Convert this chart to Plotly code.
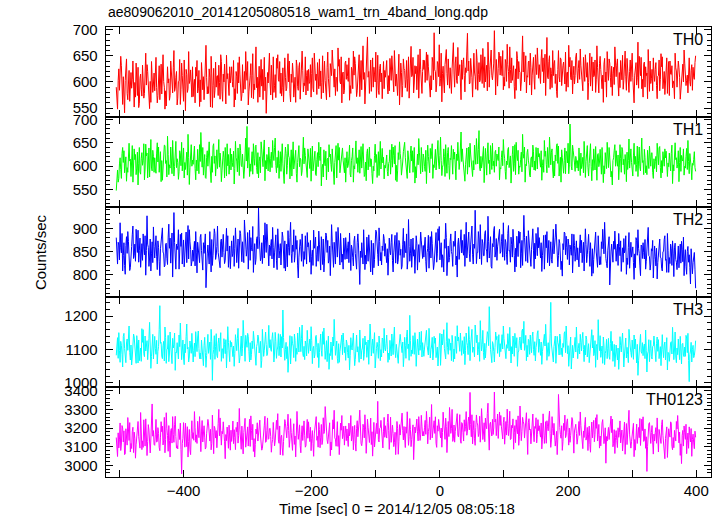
import plotly.graph_objects as go
from plotly.subplots import make_subplots

TITLE = "ae809062010_20141205080518_wam1_trn_4band_long.qdp"
XLABEL = "Time [sec] 0 = 2014/12/05 08:05:18"
YLABEL = "Counts/sec"

T_START = -505
T_STEP = 1

names = ["TH0", "TH1", "TH2", "TH3", "TH0123"]
colors = ["#ff0000", "#00ff00", "#0000ff", "#00ffff", "#ff00ff"]

th0 = [
    590, 571, 548, 603, 625, 584, 612, 649, 631, 592, 557, 610, 575, 541, 603, 627, 644, 578, 566, 596, 622, 563, 581, 618, 588, 604, 640, 567, 552, 599, 571, 636, 597, 574, 628, 551, 559, 607, 615, 586, 573, 632, 604, 569, 578, 613, 655, 594, 633, 620, 586, 562, 549, 601, 561, 639, 609, 580, 596, 617,
    583, 612, 647, 589, 560, 574, 592, 631, 566, 608, 634, 577, 618, 652, 601, 590, 548, 583, 554, 616, 629, 598, 606, 565, 574, 640, 611, 593, 579, 627, 660, 582, 588, 609, 620, 556, 569, 601, 602, 643, 557, 586, 636, 612, 581, 563, 642, 605, 545, 624, 614, 580, 587, 658, 597, 603, 623, 576, 571, 629,
    572, 596, 605, 560, 628, 611, 641, 579, 587, 622, 553, 604, 562, 637, 619, 585, 610, 566, 596, 644, 670, 608, 577, 591, 578, 625, 608, 552, 649, 617, 551, 593, 626, 570, 584, 638, 590, 611, 612, 574, 632, 599, 567, 652, 639, 581, 563, 615, 600, 634, 583, 558, 651, 606, 616, 588, 574, 629, 598, 613,
    629, 601, 590, 641, 552, 587, 566, 620, 611, 578, 637, 598, 648, 615, 597, 564, 575, 633, 579, 606, 620, 586, 658, 619, 603, 639, 556, 581, 591, 612, 635, 570, 612, 654, 568, 596, 585, 627, 667, 589, 609, 561, 594, 630, 571, 614, 643, 592, 624, 566, 605, 647, 583, 609, 540, 574, 618, 598, 627, 655,
    598, 575, 632, 611, 566, 648, 580, 593, 614, 570, 645, 626, 652, 604, 601, 639, 578, 617, 573, 589, 627, 562, 612, 646, 609, 583, 588, 622, 654, 600, 640, 578, 562, 615, 599, 636, 617, 571, 596, 609, 561, 642, 631, 591, 584, 628, 637, 567, 610, 604, 659, 622, 581, 598, 593, 648, 575, 612, 622, 583,
    624, 597, 600, 633, 571, 616, 646, 588, 581, 655, 629, 603, 615, 576, 637, 611, 587, 644, 592, 621, 568, 599, 650, 579, 621, 640, 603, 586, 566, 628, 657, 607, 589, 571, 635, 617, 612, 661, 632, 594, 590, 625, 574, 609, 607, 582, 665, 630, 643, 601, 596, 648, 560, 615, 619, 577, 584, 636, 640, 605,
    633, 610, 601, 646, 565, 593, 578, 628, 622, 587, 659, 613, 648, 635, 595, 572, 583, 619, 614, 652, 572, 604, 641, 585, 637, 669, 605, 618, 558, 596, 590, 631, 686, 609, 620, 578, 613, 642, 582, 606, 646, 590, 628, 615, 600, 657, 570, 603, 651, 584, 576, 626, 634, 600, 617, 568, 598, 639, 587, 622,
    609, 628, 641, 596, 577, 612, 583, 645, 625, 603, 650, 621, 602, 581, 660, 637, 592, 615, 590, 574, 617, 653, 556, 600, 636, 618, 571, 593, 644, 626, 622, 589, 605, 641, 582, 607, 648, 569, 594, 632, 668, 610, 613, 647, 579, 598, 631, 616, 630, 585, 607, 652, 569, 606, 663, 624, 588, 578, 620, 642,
    624, 641, 599, 618, 657, 603, 652, 629, 613, 590, 571, 612, 585, 647, 638, 604, 694, 623, 620, 581, 596, 639, 634, 610, 671, 592, 607, 655, 562, 616, 630, 598, 579, 633, 646, 662, 616, 594, 644, 609, 588, 627, 601, 578, 625, 650, 675, 615, 590, 636, 648, 603, 597, 666, 612, 621, 633, 588, 566, 642,
    605, 633, 646, 612, 581, 627, 618, 659, 693, 621, 640, 596, 598, 645, 629, 608, 571, 637, 655, 619, 610, 586, 662, 641, 584, 614, 637, 600, 603, 652, 621, 597, 664, 629, 589, 648, 600, 617, 632, 583, 676, 638, 590, 624, 641, 661, 612, 604, 619, 636, 698, 615, 575, 643, 607, 592, 626, 657, 651, 613,
    649, 627, 612, 660, 585, 609, 592, 643, 636, 601, 672, 633, 620, 588, 667, 624, 598, 646, 603, 617, 631, 591, 568, 625, 584, 658, 645, 606, 639, 621, 618, 583, 600, 642, 688, 619, 657, 600, 626, 650, 579, 612, 609, 638, 640, 594, 655, 628, 575, 613, 629, 647, 604, 586, 652, 631, 614, 665, 640, 607,
    633, 611, 597, 644, 662, 620, 646, 598, 618, 653, 574, 628, 685, 609, 606, 639, 650, 586, 627, 616, 589, 660, 612, 635, 641, 597, 615, 582, 570, 624, 660, 610, 600, 646, 643, 593, 624, 631, 638, 604, 596, 657, 582, 617, 619, 590, 670, 629, 647, 608, 604, 641, 577, 612, 630, 596, 612, 648, 655, 621,
    598, 626, 641, 605, 663, 632, 616, 589, 583, 647, 624, 601, 652, 614, 609, 637, 566, 599, 627, 655, 592, 618, 648, 583, 638, 610, 612, 642, 580, 604, 669, 628, 596, 579, 635, 649, 624, 592, 587, 613, 561, 634, 645, 600, 619, 571, 658, 625, 603, 644, 636, 609, 590, 630, 574, 616, 628, 595, 667, 638,
    610, 632, 644, 598, 573, 618, 589, 641, 626, 604, 651, 586, 603, 628, 659, 611, 584, 645, 615, 593, 580, 620, 642, 601, 633, 655, 608, 579, 560, 613, 621, 637, 594, 609, 676, 588, 649, 626, 612, 647, 587, 605, 571, 634, 638, 590, 629, 612, 617, 568, 662, 623, 582, 640, 597, 606, 624, 583, 646, 615,
    601, 624, 637, 593, 568, 611, 612, 642, 583, 605, 654, 629, 648, 587, 606, 620, 576, 598, 622, 646, 578, 608, 639, 574, 640, 615, 614, 631, 589, 602, 596, 568, 655, 627, 621, 590, 609, 640, 627, 609, 567, 587, 585, 618, 634, 600, 661, 636, 619, 593, 603, 613, 579, 638, 646, 601, 592, 622, 633, 584,
    628, 609, 605, 637, 650,
]

th1 = [
    548, 581, 592, 566, 574, 605, 618, 593, 574, 627, 640, 608, 633, 586, 601, 620, 568, 597, 587, 636, 649, 611, 615, 578, 610, 644, 566, 599, 637, 614, 625, 582, 596, 630, 560, 605, 640, 588, 583, 617, 629, 602, 612, 648, 571, 594, 647, 622, 628, 575, 604, 639, 577, 613, 657, 596, 590, 634, 621, 587,
    618, 594, 585, 628, 650, 609, 641, 587, 603, 631, 567, 612, 570, 598, 629, 645, 644, 606, 612, 577, 664, 625, 582, 603, 596, 641, 620, 584, 655, 617, 579, 599, 637, 653, 597, 616, 608, 572, 588, 633, 626, 601, 651, 590, 615, 639, 575, 608, 593, 626, 630, 581, 668, 619, 561, 597, 622, 646, 600, 613,
    604, 627, 643, 595, 571, 613, 590, 636, 617, 584, 646, 610, 672, 629, 598, 640, 581, 604, 625, 576, 574, 619, 633, 600, 636, 652, 609, 588, 565, 621, 587, 643, 648, 606, 622, 579, 613, 635, 595, 617, 657, 598, 628, 611, 567, 590, 606, 632, 619, 575, 640, 614, 579, 648, 601, 625, 583, 604, 638, 592,
    626, 608, 599, 632, 562, 595, 653, 619, 611, 588, 639, 613, 580, 647, 634, 602, 599, 626, 606, 574, 592, 638, 660, 611, 685, 596, 617, 640, 578, 605, 589, 622, 631, 583, 648, 616, 602, 642, 645, 597, 584, 629, 575, 610, 620, 586, 652, 635, 608, 599, 637, 656, 569, 612, 594, 625, 615, 590, 641, 607,
    588, 616, 630, 597, 655, 624, 612, 640, 660, 602, 586, 619, 597, 633, 574, 606, 631, 589, 623, 648, 605, 582, 563, 615, 641, 627, 583, 601, 647, 622, 618, 573, 600, 635, 579, 612, 652, 594, 609, 629, 634, 585, 566, 608, 627, 644, 599, 617, 614, 580, 590, 628, 662, 605, 639, 623, 603, 591, 576, 637,
    621, 603, 595, 638, 568, 611, 643, 590, 606, 625, 632, 582, 580, 614, 629, 599, 651, 623, 612, 641, 558, 596, 604, 577, 635, 609, 601, 632, 571, 615, 617, 588, 646, 620, 626, 604, 589, 637, 610, 583, 561, 608, 627, 644, 575, 601, 649, 613, 640, 586, 598, 622, 624, 639, 613, 594, 586, 618, 566, 605,
    631, 597, 602, 620, 645, 583, 577, 612, 620, 639, 566, 601, 594, 624, 654, 606, 618, 587, 608, 635, 585, 613, 642, 596, 626, 648, 611, 578, 582, 609, 569, 627, 637, 592, 619, 641, 599, 616, 615, 584, 563, 600, 590, 623, 647, 608, 625, 576, 603, 631, 580, 611, 653, 594, 622, 638, 607, 619, 573, 602,
    596, 617, 624, 589, 579, 606, 610, 635, 583, 612, 647, 598, 641, 623, 605, 644, 570, 602, 567, 590, 629, 614, 652, 627, 614, 581, 592, 609, 631, 646, 651, 619, 600, 596, 574, 633, 619, 605, 586, 628, 643, 611, 633, 587, 608, 640, 564, 599, 575, 616, 626, 603, 659, 630, 603, 584, 640, 613, 588, 626,
    618, 599, 589, 634, 563, 610, 645, 621, 607, 586, 638, 616, 628, 648, 574, 603, 597, 627, 636, 592, 611, 640, 655, 605, 594, 623, 662, 612, 580, 598, 603, 637, 621, 578, 646, 609, 585, 629, 640, 601, 572, 617, 614, 644, 598, 583, 636, 615, 630, 597, 571, 626, 612, 651, 624, 593, 609, 632, 673, 610,
    637, 615, 600, 582, 568, 603, 616, 639, 583, 620, 641, 598, 649, 626, 610, 584, 578, 612, 592, 645, 628, 604, 659, 617, 605, 636, 676, 596, 590, 621, 596, 607, 619, 642, 565, 590, 638, 614, 581, 628, 650, 606, 613, 583, 644, 624, 593, 649, 601, 611, 587, 630, 634, 600, 626, 618, 612, 641, 571, 597,
    594, 619, 633, 601, 657, 628, 616, 589, 572, 611, 603, 636, 640, 597, 607, 622, 564, 610, 625, 643, 589, 605, 646, 582, 651, 624, 612, 634, 583, 600, 598, 615, 630, 588, 668, 627, 617, 641, 566, 604, 601, 629, 636, 613, 603, 580, 577, 617, 620, 598, 645, 632, 592, 611, 591, 640, 608, 594, 639, 620,
    627, 609, 598, 633, 570, 602, 614, 587, 655, 621, 632, 604, 586, 640, 620, 597, 662, 616, 603, 630, 637, 592, 575, 611, 579, 624, 611, 645, 648, 606, 643, 579, 596, 619, 566, 635, 618, 598, 585, 612, 639, 584, 632, 627, 607, 649, 584, 603, 690, 618, 600, 592, 645, 633, 624, 607, 589, 621, 613, 596,
    612, 590, 639, 617, 580, 628, 595, 604, 619, 586, 653, 622, 576, 610, 630, 644, 598, 579, 606, 631, 648, 600, 569, 614, 591, 637, 615, 592, 642, 607, 570, 625, 627, 599, 609, 636, 603, 583, 640, 615, 565, 601, 584, 629, 613, 595, 651, 618, 597, 640, 624, 606, 577, 589, 560, 612, 618, 634, 646, 600,
    633, 611, 600, 624, 571, 598, 646, 616, 587, 640, 635, 603, 615, 583, 625, 609, 567, 630, 593, 612, 658, 596, 620, 637, 608, 585, 579, 622, 649, 604, 621, 589, 604, 643, 578, 613, 641, 599, 590, 626, 660, 608, 612, 582, 636, 619, 586, 601, 582, 634, 617, 595, 643, 611, 600, 628, 629, 587, 574, 616,
    595, 610, 621, 588, 649, 626, 603, 639, 642, 597, 575, 612, 586, 631, 614, 600, 637, 618, 632, 584, 578, 607, 599, 628, 609, 590, 627, 645, 563, 603, 590, 622, 650, 614, 618, 596, 604, 633, 567, 608, 640, 589, 623, 615, 611, 637, 581, 600, 596, 621, 638, 593, 655, 610, 584, 627, 616, 598, 571, 606,
    602, 614, 631, 597, 589,
]

th2 = [
    880, 851, 823, 870, 864, 832, 912, 858, 847, 889, 808, 841, 869, 820, 801, 863, 882, 846, 893, 872, 838, 809, 815, 855, 861, 886, 905, 835, 842, 866, 829, 898, 874, 848, 896, 827, 852, 879, 816, 843, 867, 831, 888, 860, 843, 884, 799, 852, 927, 866, 859, 818, 836, 877, 808, 845, 871, 826, 903, 861,
    836, 862, 884, 840, 811, 873, 859, 828, 798, 856, 875, 893, 901, 849, 845, 817, 820, 866, 868, 835, 822, 881, 909, 857, 879, 825, 851, 890, 795, 844, 934, 869, 833, 812, 866, 854, 863, 897, 812, 838, 887, 861, 890, 823, 848, 875, 817, 846, 870, 892, 826, 859, 906, 834, 897, 871, 855, 819, 828, 853,
    829, 855, 872, 819, 893, 847, 804, 870, 858, 836, 826, 881, 887, 852, 837, 810, 869, 846, 866, 888, 772, 829, 845, 864, 851, 823, 893, 857, 806, 876, 820, 842, 861, 899, 889, 833, 842, 861, 905, 848, 834, 815, 815, 872, 877, 838, 858, 887, 848, 824, 831, 867, 900, 851, 884, 816, 839, 862, 813, 845,
    873, 839, 846, 884, 818, 857, 901, 866, 826, 849, 877, 814, 864, 895, 889, 853, 828, 871, 843, 826, 918, 876, 865, 840, 855, 891, 812, 862, 896, 831, 880, 858, 851, 904, 805, 847, 867, 822, 833, 878, 882, 856, 944, 883, 859, 830, 837, 869, 824, 851, 885, 836, 912, 873, 848, 909, 870, 845, 819, 864,
    841, 863, 876, 834, 902, 858, 815, 847, 862, 886, 830, 811, 899, 869, 836, 852, 867, 821, 858, 892, 881, 845, 814, 873, 808, 838, 866, 817, 895, 859, 842, 880, 913, 846, 826, 864, 850, 897, 827, 842, 884, 855, 874, 819, 793, 838, 852, 876, 861, 829, 888, 864, 818, 850, 833, 884, 857, 823, 891, 860,
    869, 846, 827, 874, 801, 839, 853, 820, 896, 857, 864, 881, 818, 843, 861, 829, 894, 866, 840, 810, 882, 851, 822, 877, 806, 834, 857, 890, 885, 848, 874, 825, 831, 862, 798, 847, 908, 871, 845, 816, 870, 855, 823, 893, 866, 838, 902, 859, 849, 821, 889, 868, 827, 844, 812, 879, 852, 833, 880, 856,
    834, 858, 871, 826, 890, 849, 809, 864, 856, 837, 819, 873, 883, 846, 828, 812, 870, 888, 862, 835, 779, 851, 837, 869, 848, 823, 897, 860, 811, 842, 823, 881, 857, 829, 886, 855, 839, 806, 874, 847, 800, 868, 815, 833, 866, 896, 893, 852, 843, 819, 901, 872, 830, 848, 821, 862, 852, 887, 878, 840,
    867, 841, 826, 856, 799, 838, 879, 852, 843, 870, 887, 831, 806, 847, 864, 885, 825, 859, 891, 823, 832, 874, 869, 842, 855, 812, 818, 866, 900, 837, 872, 853, 847, 888, 812, 830, 919, 861, 829, 845, 877, 816, 861, 879, 840, 854, 803, 835, 884, 868, 810, 849, 865, 827, 858, 892, 873, 846, 835, 863,
    838, 864, 881, 829, 806, 848, 857, 885, 814, 852, 882, 836, 893, 867, 846, 811, 823, 858, 870, 891, 827, 845, 899, 874, 904, 832, 851, 869, 816, 843, 835, 806, 876, 857, 911, 880, 798, 839, 862, 827, 837, 872, 888, 850, 843, 818, 872, 861, 866, 894, 821, 840, 795, 866, 879, 833, 855, 876, 897, 847,
    874, 851, 842, 887, 818, 864, 913, 836, 859, 879, 892, 845, 828, 866, 885, 905, 843, 823, 866, 857, 939, 881, 824, 848, 848, 893, 877, 834, 908, 862, 822, 876, 868, 841, 841, 889, 895, 856, 851, 827, 926, 871, 836, 853, 882, 818, 814, 867, 860, 896, 904, 838, 849, 878, 831, 860, 871, 890, 898, 846,
    849, 871, 887, 838, 912, 860, 831, 876, 869, 843, 822, 889, 906, 851, 852, 827, 881, 865, 838, 898, 878, 842, 806, 857, 817, 883, 864, 839, 894, 868, 892, 815, 845, 874, 820, 856, 928, 880, 859, 829, 883, 862, 826, 895, 873, 847, 840, 818, 855, 877, 899, 853, 813, 868, 834, 889, 867, 841, 902, 858,
    880, 852, 836, 869, 807, 841, 862, 885, 812, 837, 886, 858, 893, 826, 848, 874, 819, 850, 871, 833, 825, 864, 898, 845, 857, 881, 909, 860, 835, 817, 841, 876, 868, 848, 811, 829, 797, 867, 854, 892, 890, 843, 883, 859, 833, 877, 866, 821, 864, 855, 842, 888, 804, 840, 887, 863, 829, 851, 873, 832,
    858, 834, 817, 862, 886, 847, 874, 826, 843, 870, 808, 852, 899, 865, 826, 843, 862, 887, 852, 818, 869, 840, 797, 856, 803, 833, 861, 878, 892, 849, 838, 816, 884, 863, 821, 839, 822, 871, 856, 898, 879, 845, 913, 861, 835, 824, 815, 853, 867, 882, 778, 837, 851, 866, 849, 827, 872, 855, 894, 841,
    829, 853, 866, 820, 889, 861, 841, 873, 807, 838, 858, 827, 878, 847, 853, 884, 801, 836, 822, 859, 891, 814, 846, 870, 838, 851, 860, 826, 790, 845, 815, 880, 874, 842, 897, 857, 846, 819, 798, 864, 862, 835, 869, 848, 834, 876, 812, 829, 857, 866, 902, 841, 839, 810, 823, 856, 851, 874, 793, 833,
    862, 840, 819, 857, 791, 826, 845, 868, 877, 838, 836, 814, 808, 849, 851, 876, 884, 831, 833, 805, 889, 852, 805, 837, 824, 866, 856, 820, 873, 845, 796, 858, 868, 833, 827, 811, 839, 862, 815, 847, 866, 825, 872, 854, 828, 881, 798, 836, 854, 818, 801, 850, 861, 827, 843, 815, 780, 856, 829, 802,
    826, 845, 848, 812, 771,
]

th3 = [
    1082, 1108, 1135, 1073, 1150, 1096, 1061, 1124, 1112, 1085, 1047, 1139, 1148, 1102, 1074, 1060, 1119, 1131, 1097, 1154, 1170, 1090, 1068, 1113, 1053, 1077, 1120, 1146, 1137, 1099, 1089, 1058, 1141, 1116, 1059, 1128, 1066, 1093, 1104, 1064, 1162, 1121, 1159, 1087, 1078, 1140, 1095, 1110, 1126, 1069, 1092, 1133, 1181, 1101, 1043, 1079, 1117, 1145, 1071, 1098,
    1139, 1102, 1085, 1127, 1056, 1094, 1108, 1160, 1231, 1118, 1121, 1080, 1072, 1111, 1124, 1065, 1167, 1135, 1058, 1099, 1101, 1142, 1063, 1086, 1152, 1113, 1081, 1057, 1133, 1104, 1115, 1149, 1037, 1092, 1090, 1120, 1096, 1071, 1143, 1108, 1179, 1132, 1069, 1095, 1128, 1074, 1054, 1116, 1090, 1139, 1176, 1101, 1106, 1062, 1077, 1125, 1110, 1088, 1148, 1114,
    1062, 1097, 1119, 1078, 1153, 1116, 1093, 1137, 1155, 1103, 1072, 1089, 1071, 1128, 1104, 1066, 1051, 1112, 1136, 1091, 1046, 1081, 1127, 1145, 1088, 1106, 1122, 1070, 1160, 1123, 1007, 1084, 1099, 1141, 1070, 1109, 1147, 1082, 1075, 1118, 1134, 1094, 1113, 1150, 1064, 1102, 1101, 1073, 1132, 1114, 1087, 1129, 1044, 1096, 1168, 1121, 1095, 1063, 1126, 1107,
    1121, 1092, 1078, 1110, 1049, 1087, 1144, 1119, 1096, 1132, 1163, 1098, 1059, 1076, 1117, 1140, 1080, 1103, 1187, 1127, 1083, 1064, 1142, 1111, 1106, 1148, 1139, 1093, 1062, 1120, 1068, 1085, 1125, 1102, 1154, 1131, 1091, 1074, 1052, 1108, 1118, 1143, 1134, 1089, 1101, 1124, 1045, 1067, 1160, 1113, 1079, 1097, 1130, 1152, 1115, 1081, 1086, 1119, 1172, 1105,
    1129, 1101, 1094, 1132, 1150, 1116, 1062, 1089, 1151, 1124, 1073, 1098, 1107, 1147, 1081, 1112, 1145, 1077, 1138, 1104, 1218, 1135, 1090, 1067, 1099, 1121, 1072, 1108, 1031, 1083, 1123, 1141, 1056, 1096, 1139, 1118, 1110, 1075, 1146, 1127, 1064, 1103, 1085, 1149, 1127, 1092, 1166, 1114, 1093, 1133, 1173, 1087, 1078, 1109, 1069, 1125, 1114, 1080, 1157, 1120,
    1088, 1113, 1131, 1095, 1168, 1127, 1057, 1102, 1109, 1074, 1084, 1139, 1142, 1106, 1076, 1118, 1045, 1091, 1120, 1146, 1097, 1079, 1153, 1115, 1164, 1130, 1070, 1096, 1126, 1063, 1116, 1140, 1040, 1087, 1081, 1122, 1103, 1069, 1137, 1110, 1190, 1148, 1082, 1101, 1125, 1073, 1058, 1117, 1061, 1093, 1111, 1134, 1143, 1084, 1149, 1121, 1090, 1107, 1067, 1128,
    1118, 1090, 1074, 1112, 1038, 1081, 1135, 1106, 1098, 1125, 1149, 1094, 1051, 1070, 1127, 1143, 1092, 1108, 1086, 1061, 1158, 1119, 1071, 1097, 1104, 1133, 1067, 1085, 1140, 1114, 1122, 1076, 1093, 1128, 1055, 1100, 1176, 1137, 1080, 1111, 1131, 1088, 1113, 1150, 1044, 1095, 1102, 1121, 1106, 1073, 1140, 1117, 1066, 1099, 1077, 1134, 1129, 1089, 1163, 1105,
    1095, 1118, 1143, 1100, 1061, 1089, 1069, 1127, 1112, 1080, 1146, 1109, 1084, 1134, 1167, 1096, 1075, 1115, 1101, 1072, 1058, 1104, 1130, 1145, 1124, 1093, 1090, 1122, 1048, 1079, 1136, 1111, 1073, 1138, 1158, 1102, 1116, 1067, 1202, 1126, 1079, 1098, 1087, 1141, 1108, 1085, 1150, 1119, 1049, 1092, 1131, 1106, 1083, 1152, 1097, 1114, 1154, 1077, 1120, 1099,
    1079, 1104, 1121, 1142, 1157, 1111, 1096, 1083, 1163, 1127, 1074, 1099, 1110, 1136, 1068, 1092, 1139, 1118, 1134, 1075, 1089, 1107, 1050, 1094, 1117, 1148, 1052, 1086, 1146, 1113, 1128, 1159, 1103, 1081, 1071, 1124, 1180, 1105, 1085, 1132, 1128, 1097, 1119, 1066, 1142, 1120, 1063, 1101, 1071, 1139, 1108, 1088, 1171, 1125, 1137, 1109, 1094, 1149, 1115, 1082,
    1126, 1104, 1087, 1138, 1054, 1097, 1149, 1121, 1112, 1084, 1168, 1130, 1066, 1113, 1135, 1160, 1091, 1107, 1101, 1077, 1173, 1126, 1120, 1143, 1083, 1099, 1121, 1064, 1186, 1132, 1095, 1115, 1157, 1090, 1069, 1118, 1074, 1102, 1131, 1153, 1145, 1111, 1228, 1137, 1099, 1080, 1060, 1123, 1116, 1094, 1062, 1106, 1152, 1129, 1139, 1088, 1108, 1144, 1078, 1117,
    1093, 1125, 1144, 1101, 1170, 1132, 1117, 1089, 1072, 1114, 1103, 1147, 1129, 1095, 1166, 1120, 1059, 1108, 1086, 1140, 1122, 1079, 1148, 1116, 1104, 1135, 1049, 1092, 1095, 1127, 1137, 1103, 1098, 1155, 1161, 1118, 1184, 1097, 1111, 1142, 1066, 1112, 1077, 1130, 1126, 1085, 1143, 1109, 1090, 1138, 1152, 1100, 1082, 1123, 1065, 1106, 1119, 1149, 1156, 1091,
    1131, 1105, 1082, 1122, 1055, 1093, 1109, 1136, 1145, 1110, 1175, 1128, 1067, 1098, 1120, 1079, 1089, 1147, 1241, 1116, 1094, 1071, 1062, 1108, 1127, 1140, 1058, 1096, 1139, 1121, 1113, 1083, 1146, 1132, 1084, 1104, 1078, 1118, 1106, 1149, 1153, 1090, 1170, 1126, 1087, 1111, 1049, 1080, 1124, 1137, 1041, 1101, 1112, 1074, 1099, 1129, 1136, 1092, 1167, 1114,
    1072, 1103, 1118, 1086, 1145, 1121, 1095, 1132, 1151, 1099, 1063, 1112, 1083, 1140, 1129, 1077, 1101, 1117, 1060, 1093, 1107, 1135, 1159, 1104, 1142, 1081, 1088, 1126, 1046, 1108, 1115, 1069, 1189, 1123, 1096, 1141, 1076, 1094, 1110, 1058, 1137, 1113, 1054, 1087, 1097, 1130, 1072, 1102, 1133, 1079, 1070, 1118, 1154, 1096, 1124, 1064, 1091, 1115, 1048, 1100,
    1113, 1089, 1068, 1104, 1040, 1077, 1138, 1112, 1092, 1125, 1149, 1098, 1047, 1083, 1121, 1134, 1074, 1106, 1085, 1060, 1160, 1119, 1107, 1091, 1076, 1128, 1104, 1070, 1143, 1101, 1131, 1085, 1059, 1115, 1022, 1066, 1099, 1138, 1145, 1093, 1088, 1120, 1081, 1107, 1116, 1072, 1158, 1097, 1032, 1086, 1094, 1129, 1063, 1102, 1127, 1078, 1071, 1109, 1110, 1140,
    1106, 1082, 1063, 1117, 1137, 1094, 1129, 1072, 1088, 1108, 1051, 1126, 1144, 1099, 1075, 1113, 1122, 1068, 1110, 1135, 1038, 1091, 1089, 1064, 1097, 1120, 1123, 1086, 1166, 1111, 1069, 1098, 1152, 1077, 1060, 1104, 1084, 1131, 1101, 1069, 1139, 1095, 1056, 1116, 1118, 1083, 1078, 1107, 1079, 1142, 1134, 1090, 1148, 1067, 1003, 1084, 1095, 1121, 1062, 1099,
    1112, 1075, 1081, 1098, 1126,
]

th0123 = [
    3150, 3102, 3048, 3175, 3094, 3137, 3228, 3080, 3115, 3214, 3201, 3126, 3186, 3058, 3062, 3197, 3143, 3109, 3257, 3162, 3134, 3230, 3072, 3118, 3091, 3183, 3205, 3069, 3179, 3146, 3039, 3111, 3168, 3209, 3236, 3154, 3121, 3093, 3284, 3171, 3085, 3132, 3097, 3245, 3176, 3104, 3250, 3159, 3053, 3128, 3219, 3190, 3101, 3067, 3142, 3225, 3330, 3157, 3187, 3113,
    3108, 3168, 3247, 3125, 3130, 3203, 3172, 3097, 3079, 3152, 3235, 3181, 3211, 3110, 3136, 3258, 3068, 3140, 3283, 3199, 3160, 3076, 3214, 3133, 3045, 3187, 3198, 3120, 3262, 3167, 3124, 3221, 3264, 3155, 3093, 3106, 3089, 3196, 3182, 3139, 3227, 3086, 2955, 3117, 3146, 3230, 3186, 3098, 3227, 3164, 3101, 3208, 3045, 3129, 3193, 3084, 3058, 3173, 3240, 3145,
    3176, 3135, 3289, 3202, 3125, 3164, 3118, 3237, 3205, 3149, 3262, 3111, 3074, 3180, 3241, 3126, 3158, 3213, 3152, 3088, 3097, 3170, 3203, 3247, 3223, 3141, 3131, 3194, 3084, 3119, 3270, 3178, 3063, 3210, 3199, 3147, 3187, 3095, 3142, 3226, 3301, 3159, 3255, 3115, 3109, 3183, 3170, 3234, 3198, 3127, 3036, 3166, 3133, 3206, 3164, 3092, 3216, 3153, 3082, 3189,
    3129, 3168, 3238, 3117, 3192, 3150, 3085, 3204, 3181, 3233, 3120, 3162, 3306, 3194, 3147, 3087, 3211, 3141, 3062, 3176, 3219, 3253, 3098, 3135, 3173, 3207, 3104, 3159, 3248, 3102, 3266, 3188, 3137, 3221, 3075, 3144, 3045, 3113, 3195, 3170, 3229, 3131, 3158, 3199, 3243, 3163, 3110, 3082, 3091, 3154, 3177, 3216, 3264, 3124, 3128, 3186, 3255, 3140, 3144, 3197,
    3200, 3156, 3071, 3118, 3139, 3231, 3184, 3105, 3132, 3170, 3242, 3193, 3278, 3137, 3119, 3212, 3057, 3151, 3162, 3094, 3054, 3129, 3196, 3246, 3226, 3167, 3148, 3209, 3275, 3188, 3097, 3143, 3251, 3176, 3123, 3081, 3175, 3224, 3113, 3158, 3046, 3127, 3290, 3201, 3140, 3172, 3218, 3108, 3068, 3164, 3213, 3134, 3181, 3239, 3159, 3098, 3106, 3185, 3247, 3146,
    3234, 3177, 3128, 3205, 3079, 3146, 3187, 3118, 3049, 3169, 3215, 3240, 3262, 3135, 3156, 3098, 3230, 3193, 3095, 3152, 3220, 3112, 3131, 3256, 3171, 3183, 3316, 3219, 3184, 3137, 3117, 3174, 3198, 3229, 3052, 3126, 3083, 3162, 3245, 3196, 3296, 3148, 3141, 3103, 3179, 3235, 3102, 3160, 3058, 3121, 3227, 3189, 3268, 3144, 3164, 3211, 3109, 3173, 3212, 3133,
    3196, 3143, 3102, 3227, 3159, 3185, 3268, 3131, 3151, 3210, 3084, 3166, 3215, 3119, 3077, 3198, 3240, 3154, 3183, 3239, 3297, 3174, 3118, 3106, 3136, 3221, 3204, 3148, 3272, 3191, 3065, 3137, 3248, 3205, 3179, 3123, 3169, 3254, 3112, 3181, 3050, 3160, 3231, 3099, 3155, 3217, 3226, 3170, 3344, 3138, 3126, 3199, 3203, 3242, 3190, 3115, 3094, 3184, 3258, 3151,
    3213, 3168, 3147, 3230, 3276, 3189, 3086, 3152, 3259, 3124, 3192, 3216, 3172, 3101, 3123, 3178, 3058, 3145, 3236, 3199, 3060, 3127, 3219, 3163, 3195, 3241, 3281, 3187, 3137, 3209, 3140, 3096, 3207, 3173, 3288, 3226, 3108, 3154, 3252, 3193, 3101, 3139, 3166, 3218, 3031, 3112, 3206, 3175, 3224, 3249, 3181, 3132, 3262, 3197, 3134, 3164, 3269, 3211, 3158, 3182,
    3158, 3205, 3242, 3167, 3290, 3224, 3116, 3181, 3203, 3259, 3138, 3196, 3327, 3148, 3175, 3233, 3240, 3172, 3261, 3119, 3097, 3213, 3184, 3247, 3219, 3164, 3148, 3201, 3098, 3177, 3286, 3228, 3187, 3140, 3254, 3208, 3069, 3186, 3236, 3155, 3311, 3244, 3172, 3199, 3301, 3129, 3143, 3217, 3125, 3183, 3210, 3265, 3278, 3161, 3153, 3207, 3273, 3136, 3119, 3230,
    3226, 3178, 3131, 3245, 3183, 3210, 3289, 3162, 3184, 3236, 3260, 3191, 3392, 3219, 3154, 3272, 3116, 3187, 3240, 3143, 3108, 3203, 3271, 3229, 3217, 3155, 3173, 3264, 3125, 3196, 3305, 3238, 3139, 3174, 3229, 3127, 3254, 3212, 3197, 3280, 3334, 3169, 3082, 3221, 3232, 3185, 3158, 3247, 3166, 3201, 3394, 3233, 3248, 3160, 3211, 3276, 3145, 3194, 3287, 3215,
    3268, 3207, 3179, 3142, 3231, 3259, 3114, 3185, 3236, 3163, 3302, 3224, 3160, 3198, 3291, 3139, 3142, 3215, 3201, 3250, 3087, 3176, 3214, 3122, 3245, 3193, 3170, 3266, 3108, 3154, 3319, 3212, 3133, 3181, 3258, 3235, 3222, 3147, 3188, 3204, 3283, 3168, 3059, 3229, 3251, 3190, 3195, 3116, 3156, 3243, 3276, 3174, 3127, 3209, 3199, 3256, 3121, 3165, 3246, 3187,
    3213, 3175, 3152, 3228, 3089, 3141, 3277, 3196, 3118, 3162, 3235, 3119, 3240, 3208, 3186, 3254, 3292, 3170, 3097, 3137, 3262, 3199, 3163, 3226, 3171, 3104, 3135, 3183, 3058, 3152, 3381, 3240, 3204, 3167, 3146, 3213, 3081, 3128, 3226, 3188, 3270, 3149, 3160, 3234, 3250, 3178, 3109, 3201, 3124, 3160, 3193, 3257, 3244, 3133, 3066, 3185, 3215, 3221, 3172, 3114,
    3142, 3197, 3236, 3161, 3287, 3214, 3178, 3123, 3090, 3185, 3150, 3218, 3258, 3136, 3153, 3204, 3080, 3168, 3211, 3112, 3071, 3179, 3233, 3148, 3189, 3242, 3127, 3166, 3256, 3199, 3273, 3131, 3166, 3220, 3093, 3158, 3105, 3187, 3228, 3246, 3194, 3117, 3147, 3202, 3012, 3155, 3131, 3183, 3204, 3139, 3171, 3224, 3265, 3176, 3249, 3100, 3119, 3192, 3064, 3150,
    3187, 3134, 3096, 3202, 3151, 3176, 3239, 3121, 3145, 3190, 3078, 3157, 3208, 3233, 3060, 3141, 3225, 3112, 3173, 3215, 3296, 3164, 3114, 3093, 3128, 3181, 3193, 3226, 3047, 3139, 3082, 3170, 3222, 3118, 3175, 3204, 3149, 3252, 3107, 3161, 3248, 3187, 3261, 3129, 3136, 3196, 3092, 3154, 2968, 3101, 3180, 3223, 3230, 3143, 3118, 3177, 3214, 3125, 3061, 3168,
    3131, 3176, 3203, 3119, 3255, 3158, 3072, 3193, 3166, 3137, 3118, 3220, 3245, 3162, 3109, 3098, 3036, 3145, 3184, 3207, 3043, 3125, 3197, 3169, 3152, 3234, 3227, 3103, 3084, 3150, 3095, 3188, 3170, 3131, 3236, 3196, 3268, 3143, 3121, 3179, 3054, 3116, 3010, 3161, 3188, 3104, 3212, 3175, 3140, 3221, 3063, 3133, 3174, 3092, 3207, 3160, 3126, 3198, 3049, 3139,
    3168, 3121, 3090, 3184, 3151,
]

series = [th0, th1, th2, th3, th0123]

y_ranges = [[533, 705], [513, 705], [752, 946], [987, 1257], [2938, 3421]]
y_dticks = [50, 50, 50, 100, 100]
y_minor = [10, 10, 10, 20, 20]

x_range = [-521, 423]
x_tickvals = [-500, -400, -300, -200, -100, 0, 100, 200, 300, 400]
x_ticktext = ["", "\u2212400", "", "\u2212200", "", "0", "", "200", "", "400"]

FONT = "Liberation Sans, Arial, Helvetica, sans-serif"

fig = make_subplots(rows=5, cols=1, shared_xaxes=True, vertical_spacing=0)

for i, (vals, col) in enumerate(zip(series, colors)):
    t = [T_START + T_STEP * k for k in range(len(vals))]
    fig.add_trace(
        go.Scatter(x=t, y=vals, mode="lines", line=dict(color=col, width=1),
                   showlegend=False, hoverinfo="skip"),
        row=i + 1, col=1,
    )

axis_common = dict(
    showline=True, linecolor="black", linewidth=1.3, mirror="allticks",
    ticks="inside", ticklen=7, tickwidth=1, tickcolor="black",
    showgrid=False, zeroline=False,
    tickfont=dict(family=FONT, size=15, color="black"),
)

for i in range(5):
    fig.update_yaxes(
        range=y_ranges[i], dtick=y_dticks[i], tick0=0,
        minor=dict(ticks="inside", ticklen=4, dtick=y_minor[i], tick0=0, tickcolor="black", showgrid=False),
        ticklabelstandoff=4,
        **axis_common, row=i + 1, col=1,
    )
    fig.update_xaxes(
        range=x_range, tickmode="array", tickvals=x_tickvals, ticktext=x_ticktext,
        showticklabels=(i == 4),
        **axis_common, row=i + 1, col=1,
    )

annotations = []
for i, name in enumerate(names):
    top = 1 - 0.2 * i
    annotations.append(dict(
        text=name, xref="paper", yref="paper", x=0.99, y=top - 0.028,
        xanchor="right", yanchor="middle", showarrow=False,
        font=dict(family=FONT, size=16, color="black"),
    ))
annotations.append(dict(
    text=YLABEL, xref="paper", yref="paper", x=-0.109, y=0.5, textangle=-90,
    xanchor="center", yanchor="middle", showarrow=False,
    font=dict(family=FONT, size=15, color="black"),
))
annotations.append(dict(
    text=XLABEL, xref="paper", yref="paper", x=0.481, y=0, yshift=-31,
    xanchor="center", yanchor="middle", showarrow=False,
    font=dict(family=FONT, size=15, color="black"),
))
annotations.append(dict(
    text=TITLE, xref="paper", yref="paper", x=0.0, y=1, yshift=15,
    xanchor="left", yanchor="middle", showarrow=False,
    font=dict(family=FONT, size=14, color="black"),
))

fig.update_layout(
    width=723, height=516,
    margin=dict(l=106, r=12, t=27, b=39),
    paper_bgcolor="white", plot_bgcolor="white",
    annotations=annotations,
)

# remove the browser's default 8 px body margin so the figure sits at the page origin
fig.write_html(
    "out.html",
    config={"displayModeBar": False, "staticPlot": True},
    post_script="document.body.style.margin='0px';",
)
